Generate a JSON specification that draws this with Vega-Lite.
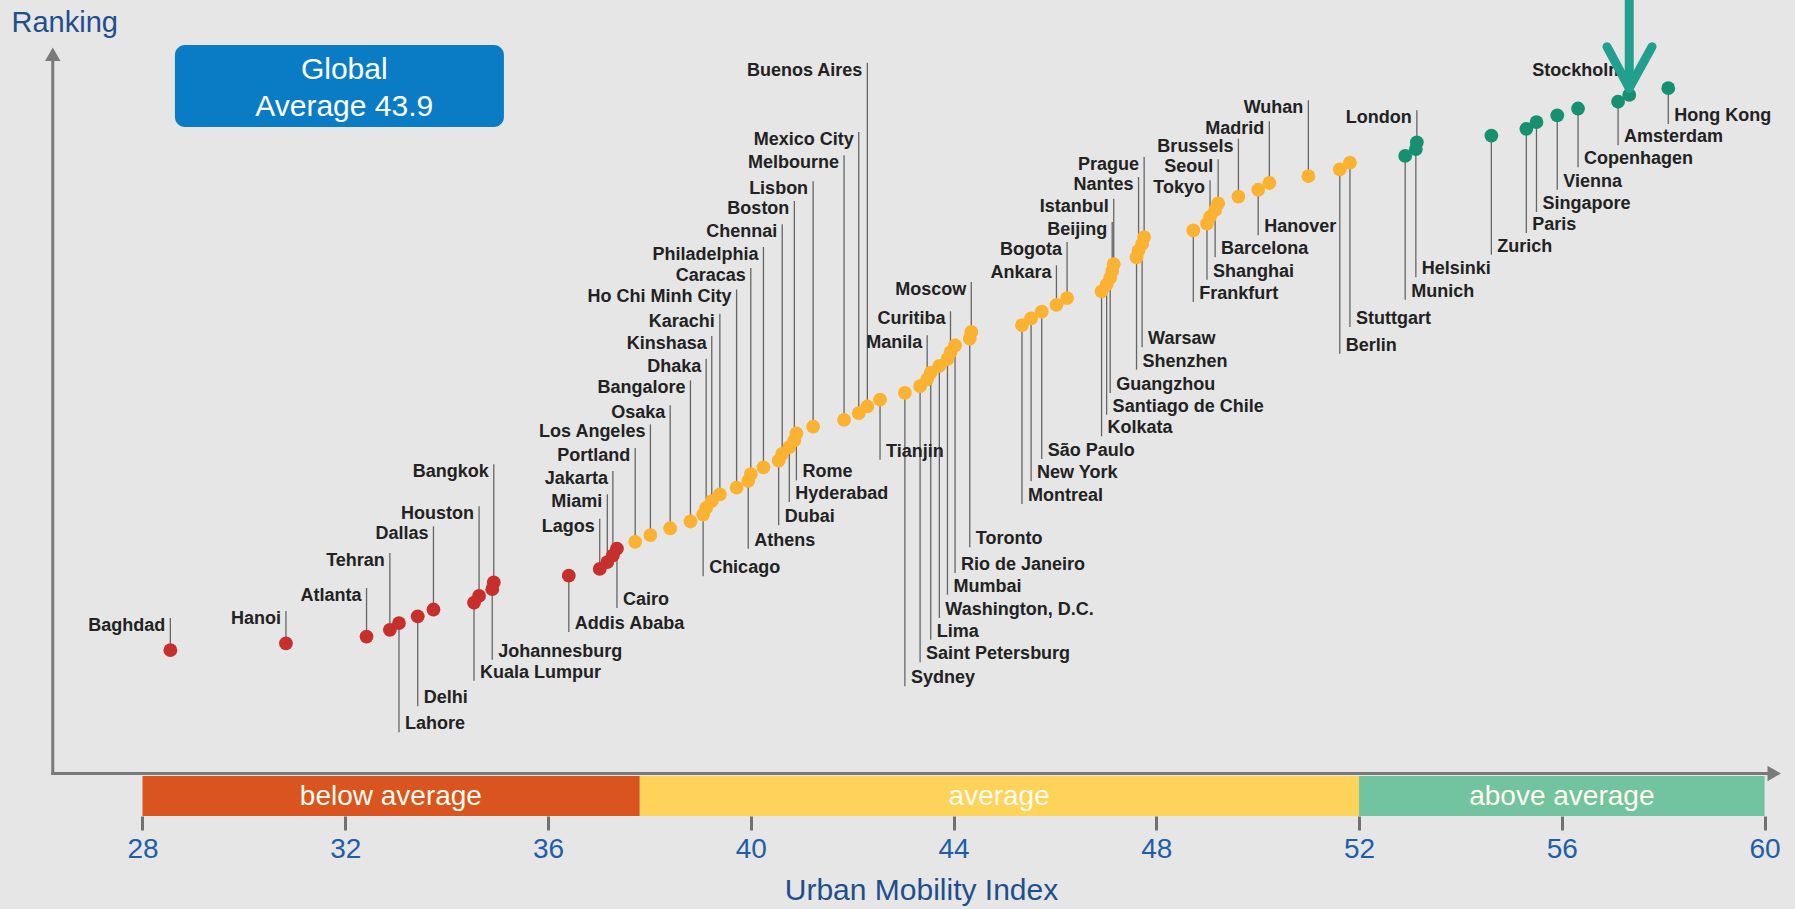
{
  "$schema": "https://vega.github.io/schema/vega-lite/v6.json",
  "width": 1795,
  "height": 816,
  "autosize": {"type": "none"},
  "padding": {"left": 0, "top": 0, "right": 0, "bottom": 93},
  "background": "#e6e6e6",
  "config": {
    "view": {"stroke": null},
    "axis": {"grid": false},
    "axisX": {"domain": false, "grid": false, "ticks": true, "tickColor": "#717171", "tickWidth": 3, "tickSize": 14, "labelFontSize": 28, "labelFont": "Liberation Sans", "labelColor": "#1f5ea6", "labelPadding": 5, "labelFlush": false, "labelBound": false, "labelOverlap": false, "titleFont": "Liberation Sans", "titleFontSize": 30, "titleFontWeight": "normal", "titleColor": "#1f4e8c", "titleX": 921, "titleY": 74, "titleBaseline": "middle", "titleAlign": "center"},
    "axisY": {"domain": false, "ticks": false, "labels": false, "grid": false, "titleAngle": 0, "titleX": 11, "titleY": 22, "titleAlign": "left", "titleBaseline": "middle", "titleFont": "Liberation Sans", "titleFontSize": 29, "titleFontWeight": "normal", "titleColor": "#1f4e8c"}
  },
  "datasets": {
    "cities": [
      {"city": "Hong Kong", "index": 58.10, "rank": 1, "group": "above average", "labelRank": 6.29},
      {"city": "Stockholm", "index": 57.33, "rank": 2, "group": "above average", "labelRank": -2.77},
      {"city": "Amsterdam", "index": 57.11, "rank": 3, "group": "above average", "labelRank": 9.43},
      {"city": "Copenhagen", "index": 56.32, "rank": 4, "group": "above average", "labelRank": 12.68},
      {"city": "Vienna", "index": 55.91, "rank": 5, "group": "above average", "labelRank": 15.99},
      {"city": "Singapore", "index": 55.50, "rank": 6, "group": "above average", "labelRank": 19.29},
      {"city": "Paris", "index": 55.30, "rank": 7, "group": "above average", "labelRank": 22.39},
      {"city": "Zurich", "index": 54.61, "rank": 8, "group": "above average", "labelRank": 25.59},
      {"city": "London", "index": 53.14, "rank": 9, "group": "above average", "labelRank": 4.26},
      {"city": "Helsinki", "index": 53.12, "rank": 10, "group": "above average", "labelRank": 28.93},
      {"city": "Munich", "index": 52.91, "rank": 11, "group": "above average", "labelRank": 32.24},
      {"city": "Stuttgart", "index": 51.82, "rank": 12, "group": "average", "labelRank": 36.27},
      {"city": "Berlin", "index": 51.62, "rank": 13, "group": "average", "labelRank": 40.22},
      {"city": "Wuhan", "index": 51.00, "rank": 14, "group": "average", "labelRank": 2.79},
      {"city": "Madrid", "index": 50.23, "rank": 15, "group": "average", "labelRank": 5.89},
      {"city": "Hanover", "index": 50.01, "rank": 16, "group": "average", "labelRank": 22.73},
      {"city": "Brussels", "index": 49.62, "rank": 17, "group": "average", "labelRank": 8.46},
      {"city": "Seoul", "index": 49.22, "rank": 18, "group": "average", "labelRank": 11.50},
      {"city": "Barcelona", "index": 49.16, "rank": 19, "group": "average", "labelRank": 25.98},
      {"city": "Tokyo", "index": 49.06, "rank": 20, "group": "average", "labelRank": 14.60},
      {"city": "Shanghai", "index": 49.00, "rank": 21, "group": "average", "labelRank": 29.29},
      {"city": "Frankfurt", "index": 48.73, "rank": 22, "group": "average", "labelRank": 32.58},
      {"city": "Prague", "index": 47.76, "rank": 23, "group": "average", "labelRank": 11.16},
      {"city": "Warsaw", "index": 47.72, "rank": 24, "group": "average", "labelRank": 39.27},
      {"city": "Nantes", "index": 47.65, "rank": 25, "group": "average", "labelRank": 14.12},
      {"city": "Shenzhen", "index": 47.61, "rank": 26, "group": "average", "labelRank": 42.58},
      {"city": "Istanbul", "index": 47.16, "rank": 27, "group": "average", "labelRank": 17.32},
      {"city": "Beijing", "index": 47.13, "rank": 28, "group": "average", "labelRank": 20.76},
      {"city": "Guangzhou", "index": 47.09, "rank": 29, "group": "average", "labelRank": 46.02},
      {"city": "Santiago de Chile", "index": 47.02, "rank": 30, "group": "average", "labelRank": 49.23},
      {"city": "Kolkata", "index": 46.92, "rank": 31, "group": "average", "labelRank": 52.42},
      {"city": "Bogota", "index": 46.24, "rank": 32, "group": "average", "labelRank": 23.72},
      {"city": "Ankara", "index": 46.03, "rank": 33, "group": "average", "labelRank": 27.16},
      {"city": "São Paulo", "index": 45.74, "rank": 34, "group": "average", "labelRank": 55.77},
      {"city": "New York", "index": 45.53, "rank": 35, "group": "average", "labelRank": 59.07},
      {"city": "Montreal", "index": 45.35, "rank": 36, "group": "average", "labelRank": 62.42},
      {"city": "Moscow", "index": 44.35, "rank": 37, "group": "average", "labelRank": 29.63},
      {"city": "Toronto", "index": 44.32, "rank": 38, "group": "average", "labelRank": 68.81},
      {"city": "Rio de Janeiro", "index": 44.03, "rank": 39, "group": "average", "labelRank": 72.61},
      {"city": "Curitiba", "index": 43.94, "rank": 40, "group": "average", "labelRank": 33.95},
      {"city": "Mumbai", "index": 43.88, "rank": 41, "group": "average", "labelRank": 75.82},
      {"city": "Washington, D.C.", "index": 43.72, "rank": 42, "group": "average", "labelRank": 79.26},
      {"city": "Lima", "index": 43.55, "rank": 43, "group": "average", "labelRank": 82.46},
      {"city": "Manila", "index": 43.48, "rank": 44, "group": "average", "labelRank": 37.50},
      {"city": "Saint Petersburg", "index": 43.34, "rank": 45, "group": "average", "labelRank": 85.80},
      {"city": "Sydney", "index": 43.04, "rank": 46, "group": "average", "labelRank": 89.35},
      {"city": "Tianjin", "index": 42.55, "rank": 47, "group": "average", "labelRank": 55.88},
      {"city": "Buenos Aires", "index": 42.30, "rank": 48, "group": "average", "labelRank": -2.77},
      {"city": "Mexico City", "index": 42.13, "rank": 49, "group": "average", "labelRank": 7.47},
      {"city": "Melbourne", "index": 41.84, "rank": 50, "group": "average", "labelRank": 10.91},
      {"city": "Lisbon", "index": 41.23, "rank": 51, "group": "average", "labelRank": 14.75},
      {"city": "Rome", "index": 40.90, "rank": 52, "group": "average", "labelRank": 58.92},
      {"city": "Boston", "index": 40.86, "rank": 53, "group": "average", "labelRank": 17.66},
      {"city": "Hyderabad", "index": 40.76, "rank": 54, "group": "average", "labelRank": 62.12},
      {"city": "Chennai", "index": 40.62, "rank": 55, "group": "average", "labelRank": 21.10},
      {"city": "Dubai", "index": 40.55, "rank": 56, "group": "average", "labelRank": 65.57},
      {"city": "Philadelphia", "index": 40.25, "rank": 57, "group": "average", "labelRank": 24.46},
      {"city": "Caracas", "index": 40.00, "rank": 58, "group": "average", "labelRank": 27.56},
      {"city": "Athens", "index": 39.95, "rank": 59, "group": "average", "labelRank": 69.02},
      {"city": "Ho Chi Minh City", "index": 39.72, "rank": 60, "group": "average", "labelRank": 30.73},
      {"city": "Karachi", "index": 39.39, "rank": 61, "group": "average", "labelRank": 34.31},
      {"city": "Kinshasa", "index": 39.23, "rank": 62, "group": "average", "labelRank": 37.60},
      {"city": "Dhaka", "index": 39.12, "rank": 63, "group": "average", "labelRank": 40.96},
      {"city": "Chicago", "index": 39.06, "rank": 64, "group": "average", "labelRank": 73.10},
      {"city": "Bangalore", "index": 38.81, "rank": 65, "group": "average", "labelRank": 44.15},
      {"city": "Osaka", "index": 38.41, "rank": 66, "group": "average", "labelRank": 47.84},
      {"city": "Los Angeles", "index": 38.02, "rank": 67, "group": "average", "labelRank": 50.65},
      {"city": "Portland", "index": 37.72, "rank": 68, "group": "average", "labelRank": 54.15},
      {"city": "Cairo", "index": 37.36, "rank": 69, "group": "below average", "labelRank": 77.78},
      {"city": "Jakarta", "index": 37.28, "rank": 70, "group": "below average", "labelRank": 57.54},
      {"city": "Miami", "index": 37.17, "rank": 71, "group": "below average", "labelRank": 60.99},
      {"city": "Lagos", "index": 37.02, "rank": 72, "group": "below average", "labelRank": 64.59},
      {"city": "Addis Ababa", "index": 36.41, "rank": 73, "group": "below average", "labelRank": 81.33},
      {"city": "Bangkok", "index": 34.93, "rank": 74, "group": "below average", "labelRank": 56.55},
      {"city": "Johannesburg", "index": 34.90, "rank": 75, "group": "below average", "labelRank": 85.42},
      {"city": "Houston", "index": 34.64, "rank": 76, "group": "below average", "labelRank": 62.76},
      {"city": "Kuala Lumpur", "index": 34.54, "rank": 77, "group": "below average", "labelRank": 88.52},
      {"city": "Dallas", "index": 33.74, "rank": 78, "group": "below average", "labelRank": 65.71},
      {"city": "Delhi", "index": 33.43, "rank": 79, "group": "below average", "labelRank": 92.30},
      {"city": "Lahore", "index": 33.06, "rank": 80, "group": "below average", "labelRank": 96.14},
      {"city": "Tehran", "index": 32.88, "rank": 81, "group": "below average", "labelRank": 69.66},
      {"city": "Atlanta", "index": 32.42, "rank": 82, "group": "below average", "labelRank": 74.83},
      {"city": "Hanoi", "index": 30.83, "rank": 83, "group": "below average", "labelRank": 78.22},
      {"city": "Baghdad", "index": 28.55, "rank": 84, "group": "below average", "labelRank": 79.26}
    ],
    "bands": [
      {"band": "below average", "start": 28, "end": 37.81, "mid": 32.9},
      {"band": "average", "start": 37.81, "end": 52, "mid": 44.9},
      {"band": "above average", "start": 52, "end": 60, "mid": 56}
    ]
  },
  "layer": [
    {
      "data": {"name": "bands"},
      "mark": {"type": "rect"},
      "encoding": {
        "x": {"field": "start", "type": "quantitative", "scale": {"domain": [25.189, 60.6], "nice": false, "zero": false}, "axis": {"values": [28, 32, 36, 40, 44, 48, 52, 56, 60], "format": "d", "title": "Urban Mobility Index"}},
        "x2": {"field": "end"},
        "y": {"datum": 102.6, "type": "quantitative", "scale": {"domain": [-12.028, 108.5], "nice": false, "zero": false, "reverse": true}, "axis": {"title": "Ranking"}},
        "y2": {"datum": 108.5},
        "fill": {"field": "band", "type": "nominal", "scale": {"domain": ["below average", "average", "above average"], "range": ["#d9541f", "#fdd35a", "#72c39f"]}, "legend": null}
      }
    },
    {
      "data": {"name": "bands"},
      "mark": {"type": "text", "font": "Liberation Sans", "fontSize": 28, "fill": "#fffbee", "align": "center", "baseline": "middle", "dy": 1},
      "encoding": {
        "x": {"field": "mid", "type": "quantitative", "scale": {"domain": [25.189, 60.6], "nice": false, "zero": false}, "axis": {"values": [28, 32, 36, 40, 44, 48, 52, 56, 60], "format": "d", "title": "Urban Mobility Index"}},
        "y": {"datum": 105.5, "type": "quantitative", "scale": {"domain": [-12.028, 108.5], "nice": false, "zero": false, "reverse": true}, "axis": {"title": "Ranking"}},
        "text": {"field": "band"}
      }
    },
    {
      "data": {"values": [{}]},
      "mark": {"type": "rule", "stroke": "#7a7a7a", "strokeWidth": 3},
      "encoding": {
        "x": {"datum": 26.2, "type": "quantitative", "scale": {"domain": [25.189, 60.6], "nice": false, "zero": false}, "axis": {"values": [28, 32, 36, 40, 44, 48, 52, 56, 60], "format": "d", "title": "Urban Mobility Index"}},
        "x2": {"datum": 60.08},
        "y": {"datum": 102.23, "type": "quantitative", "scale": {"domain": [-12.028, 108.5], "nice": false, "zero": false, "reverse": true}, "axis": {"title": "Ranking"}}
      }
    },
    {
      "data": {"values": [{}]},
      "mark": {"type": "rule", "stroke": "#7a7a7a", "strokeWidth": 3},
      "encoding": {
        "x": {"datum": 26.23, "type": "quantitative", "scale": {"domain": [25.189, 60.6], "nice": false, "zero": false}, "axis": {"values": [28, 32, 36, 40, 44, 48, 52, 56, 60], "format": "d", "title": "Urban Mobility Index"}},
        "y": {"datum": 102.45, "type": "quantitative", "scale": {"domain": [-12.028, 108.5], "nice": false, "zero": false, "reverse": true}, "axis": {"title": "Ranking"}},
        "y2": {"datum": -3.1}
      }
    },
    {
      "data": {"values": [{}]},
      "mark": {"type": "point", "shape": "triangle-right", "filled": true, "fill": "#7a7a7a", "size": 240, "opacity": 1, "strokeWidth": 0},
      "encoding": {
        "x": {"datum": 60.19, "type": "quantitative", "scale": {"domain": [25.189, 60.6], "nice": false, "zero": false}, "axis": {"values": [28, 32, 36, 40, 44, 48, 52, 56, 60], "format": "d", "title": "Urban Mobility Index"}},
        "y": {"datum": 102.23, "type": "quantitative", "scale": {"domain": [-12.028, 108.5], "nice": false, "zero": false, "reverse": true}, "axis": {"title": "Ranking"}}
      }
    },
    {
      "data": {"values": [{}]},
      "mark": {"type": "point", "shape": "triangle-up", "filled": true, "fill": "#7a7a7a", "size": 240, "opacity": 1, "strokeWidth": 0},
      "encoding": {
        "x": {"datum": 26.23, "type": "quantitative", "scale": {"domain": [25.189, 60.6], "nice": false, "zero": false}, "axis": {"values": [28, 32, 36, 40, 44, 48, 52, 56, 60], "format": "d", "title": "Urban Mobility Index"}},
        "y": {"datum": -4.02, "type": "quantitative", "scale": {"domain": [-12.028, 108.5], "nice": false, "zero": false, "reverse": true}, "axis": {"title": "Ranking"}}
      }
    },
    {
      "data": {"name": "cities"},
      "mark": {"type": "rule", "stroke": "#666666", "strokeWidth": 1.3},
      "encoding": {
        "x": {"field": "index", "type": "quantitative", "scale": {"domain": [25.189, 60.6], "nice": false, "zero": false}, "axis": {"values": [28, 32, 36, 40, 44, 48, 52, 56, 60], "format": "d", "title": "Urban Mobility Index"}},
        "y": {"field": "rank", "type": "quantitative", "scale": {"domain": [-12.028, 108.5], "nice": false, "zero": false, "reverse": true}, "axis": {"title": "Ranking"}},
        "y2": {"field": "labelRank"}
      }
    },
    {
      "data": {"name": "cities"},
      "mark": {"type": "circle", "size": 190, "opacity": 1},
      "encoding": {
        "x": {"field": "index", "type": "quantitative", "scale": {"domain": [25.189, 60.6], "nice": false, "zero": false}, "axis": {"values": [28, 32, 36, 40, 44, 48, 52, 56, 60], "format": "d", "title": "Urban Mobility Index"}},
        "y": {"field": "rank", "type": "quantitative", "scale": {"domain": [-12.028, 108.5], "nice": false, "zero": false, "reverse": true}, "axis": {"title": "Ranking"}},
        "color": {"field": "group", "type": "nominal", "scale": {"domain": ["below average", "average", "above average"], "range": ["#c62f2b", "#fab230", "#16906f"]}, "legend": null}
      }
    },
    {
      "data": {"name": "cities"},
      "transform": [{"filter": "datum.labelRank < datum.rank"}],
      "mark": {"type": "text", "align": "right", "baseline": "middle", "dx": -5, "dy": 8, "font": "Liberation Sans", "fontWeight": "bold", "fontSize": 18, "fill": "#222222"},
      "encoding": {
        "x": {"field": "index", "type": "quantitative", "scale": {"domain": [25.189, 60.6], "nice": false, "zero": false}, "axis": {"values": [28, 32, 36, 40, 44, 48, 52, 56, 60], "format": "d", "title": "Urban Mobility Index"}},
        "y": {"field": "labelRank", "type": "quantitative", "scale": {"domain": [-12.028, 108.5], "nice": false, "zero": false, "reverse": true}, "axis": {"title": "Ranking"}},
        "text": {"field": "city"}
      }
    },
    {
      "data": {"name": "cities"},
      "transform": [{"filter": "datum.labelRank > datum.rank"}],
      "mark": {"type": "text", "align": "left", "baseline": "middle", "dx": 6, "dy": -8, "font": "Liberation Sans", "fontWeight": "bold", "fontSize": 18, "fill": "#222222"},
      "encoding": {
        "x": {"field": "index", "type": "quantitative", "scale": {"domain": [25.189, 60.6], "nice": false, "zero": false}, "axis": {"values": [28, 32, 36, 40, 44, 48, 52, 56, 60], "format": "d", "title": "Urban Mobility Index"}},
        "y": {"field": "labelRank", "type": "quantitative", "scale": {"domain": [-12.028, 108.5], "nice": false, "zero": false, "reverse": true}, "axis": {"title": "Ranking"}},
        "text": {"field": "city"}
      }
    },
    {
      "data": {"values": [{}]},
      "mark": {"type": "rect", "fill": "#0a7cc6", "cornerRadius": 10},
      "encoding": {
        "x": {"datum": 28.64, "type": "quantitative", "scale": {"domain": [25.189, 60.6], "nice": false, "zero": false}, "axis": {"values": [28, 32, 36, 40, 44, 48, 52, 56, 60], "format": "d", "title": "Urban Mobility Index"}},
        "x2": {"datum": 35.13},
        "y": {"datum": -5.38, "type": "quantitative", "scale": {"domain": [-12.028, 108.5], "nice": false, "zero": false, "reverse": true}, "axis": {"title": "Ranking"}},
        "y2": {"datum": 6.73}
      }
    },
    {
      "data": {"values": [{}]},
      "mark": {"type": "text", "text": ["Global", "Average 43.9"], "lineHeight": 37, "font": "Liberation Sans", "fontSize": 30, "fill": "#ffffff", "align": "center", "baseline": "middle"},
      "encoding": {
        "x": {"datum": 31.98, "type": "quantitative", "scale": {"domain": [25.189, 60.6], "nice": false, "zero": false}, "axis": {"values": [28, 32, 36, 40, 44, 48, 52, 56, 60], "format": "d", "title": "Urban Mobility Index"}},
        "y": {"datum": -1.7, "type": "quantitative", "scale": {"domain": [-12.028, 108.5], "nice": false, "zero": false, "reverse": true}, "axis": {"title": "Ranking"}}
      }
    },
    {
      "data": {"values": [{}]},
      "mark": {"type": "rule", "stroke": "#23a08d", "strokeWidth": 9},
      "encoding": {
        "x": {"datum": 57.33, "type": "quantitative", "scale": {"domain": [25.189, 60.6], "nice": false, "zero": false}, "axis": {"values": [28, 32, 36, 40, 44, 48, 52, 56, 60], "format": "d", "title": "Urban Mobility Index"}},
        "y": {"datum": -12.028, "type": "quantitative", "scale": {"domain": [-12.028, 108.5], "nice": false, "zero": false, "reverse": true}, "axis": {"title": "Ranking"}},
        "y2": {"datum": 0.6}
      }
    },
    {
      "data": {"values": [{"side": "left", "x0": 56.89}, {"side": "right", "x0": 57.78}]},
      "mark": {"type": "rule", "stroke": "#23a08d", "strokeWidth": 9, "strokeCap": "round"},
      "encoding": {
        "x": {"field": "x0", "type": "quantitative", "scale": {"domain": [25.189, 60.6], "nice": false, "zero": false}, "axis": {"values": [28, 32, 36, 40, 44, 48, 52, 56, 60], "format": "d", "title": "Urban Mobility Index"}},
        "x2": {"datum": 57.33},
        "y": {"datum": -5.13, "type": "quantitative", "scale": {"domain": [-12.028, 108.5], "nice": false, "zero": false, "reverse": true}, "axis": {"title": "Ranking"}},
        "y2": {"datum": 1.0}
      }
    }
  ]
}
